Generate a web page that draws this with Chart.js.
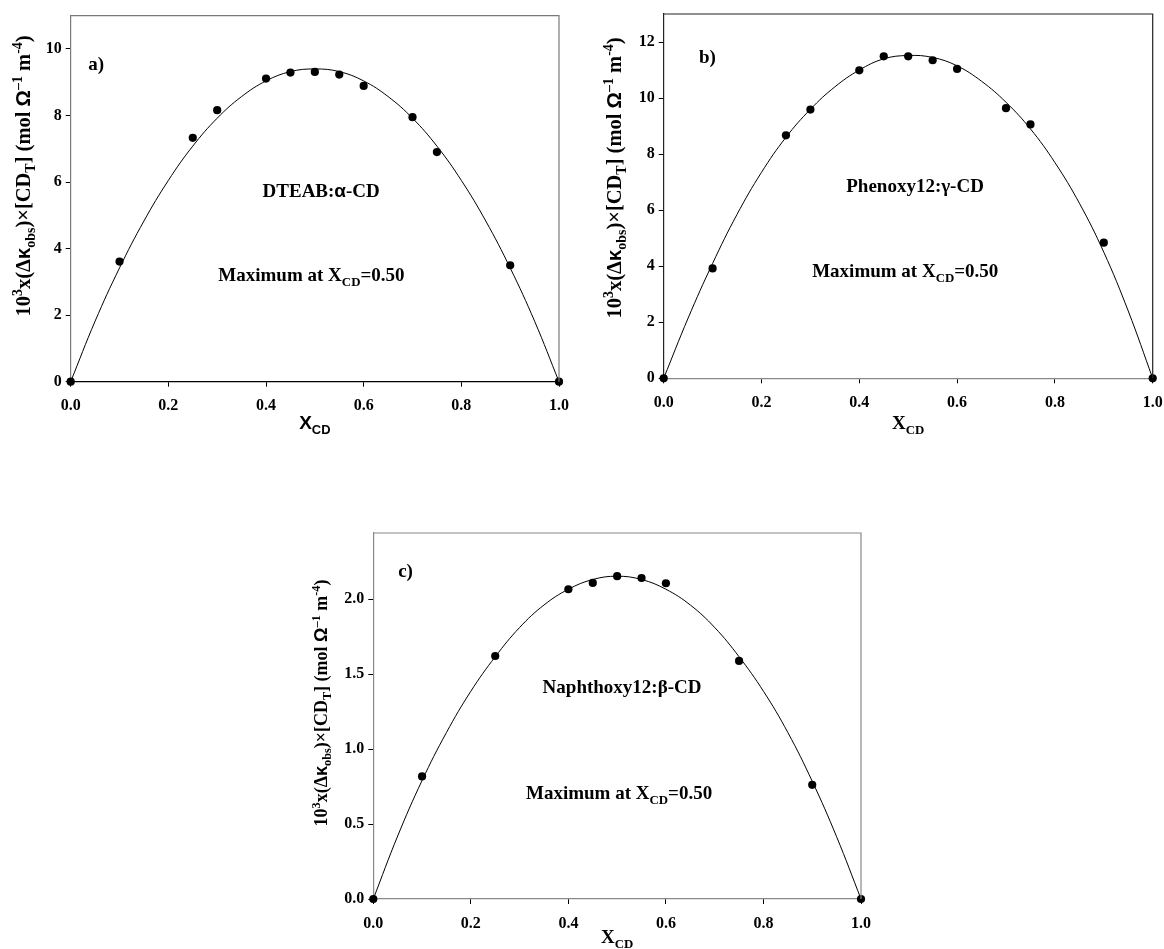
<!DOCTYPE html>
<html>
<head>
<meta charset="utf-8">
<script src="https://cdn.jsdelivr.net/npm/chart.js@4.4.0/dist/chart.umd.min.js"></script>
<style>
  body { margin: 0; background: #fff; width: 1164px; height: 949px; position: relative; overflow: hidden; }
  canvas { position: absolute; }
</style>
</head>
<body>
<canvas id="chartA" width="580" height="449" style="left:0;top:0"></canvas>
<canvas id="chartB" width="584" height="449" style="left:580px;top:0"></canvas>
<canvas id="chartC" width="600" height="479" style="left:280px;top:470px"></canvas>
<script>
// Measured mole fractions of CD
const xObs = [0, 0.1, 0.25, 0.3, 0.4, 0.45, 0.5, 0.55, 0.6, 0.7, 0.75, 0.9, 1.0];
const xObsC = [0, 0.1, 0.25, 0.4, 0.45, 0.5, 0.55, 0.6, 0.75, 0.9, 1.0];

// Job plot points, 10^3 x (dk_obs) x [CD_T]
const dteabObs = [0, 3.61, 7.33, 8.16, 9.11, 9.29, 9.31, 9.23, 8.89, 7.95, 6.90, 3.50, 0];
const phenoxyObs = [0, 3.92, 8.67, 9.59, 10.99, 11.49, 11.49, 11.35, 11.04, 9.64, 9.06, 4.84, 0];
const naphthoxyObs = [0, 0.817, 1.62, 2.065, 2.107, 2.152, 2.14, 2.105, 1.587, 0.761, 0];

// Fitted curves, every 0.05
const xFit = [0, 0.05, 0.1, 0.15, 0.2, 0.25, 0.3, 0.35, 0.4, 0.45, 0.5, 0.55, 0.6, 0.65, 0.7, 0.75, 0.8, 0.85, 0.9, 0.95, 1.0];
const dteabFit = [0, 1.82, 3.42, 4.83, 6.05, 7.08, 7.92, 8.57, 9.04, 9.32, 9.40, 9.32, 9.04, 8.57, 7.92, 7.08, 6.05, 4.83, 3.42, 1.82, 0];
const phenoxyFit = [0, 2.15, 4.1, 5.85, 7.35, 8.6, 9.6, 10.4, 11.0, 11.4, 11.52, 11.45, 11.15, 10.6, 9.85, 8.9, 7.7, 6.25, 4.5, 2.4, 0];
const naphthoxyFit = [0, 0.42, 0.79, 1.11, 1.385, 1.615, 1.81, 1.96, 2.065, 2.13, 2.152, 2.13, 2.065, 1.96, 1.81, 1.615, 1.385, 1.11, 0.785, 0.415, 0];

// Axis ticks
const xTicks = [0, 0.2, 0.4, 0.6, 0.8, 1.0];
const xTickLabels = ['0.0', '0.2', '0.4', '0.6', '0.8', '1.0'];
const yTicksA = [0, 2, 4, 6, 8, 10];
const yTicksB = [0, 2, 4, 6, 8, 10, 12];
const yTicksC = [0, 0.5, 1.0, 1.5, 2.0];
const yTickLabelsC = ['0.0', '0.5', '1.0', '1.5', '2.0'];

const SERIF = "'Liberation Serif', 'Times New Roman', serif";
const SANS = "'Liberation Sans', Arial, sans-serif";

const yTitleParts = [
  ['10', ''], ['3', 'sup'], ['x(\u0394', ''], ['\u03BA', '', SANS], ['obs', 'sub'],
  [')\u00D7[CD', ''], ['T', 'sub'], ['] (mol ', ''], ['\u03A9', '', SANS], ['\u20131', 'sup'],
  [' m', ''], ['-4', 'sup'], [')', '']
];
const maxParts = [['Maximum at X', ''], ['CD', 'sub'], ['=0.50', '']];

// draws text with sub/superscripts; y is the middle of the capitals
function drawRich(ctx, parts, x, y, size, family, align, rotate) {
  const small = size * 0.68;
  ctx.save();
  ctx.translate(x, y);
  if (rotate) ctx.rotate(-Math.PI / 2);
  ctx.fillStyle = '#000';
  ctx.textBaseline = 'alphabetic';
  ctx.textAlign = 'left';
  const fonts = parts.map(p => 'bold ' + (p[1] ? small : size) + 'px ' + (p[2] || family));
  const widths = parts.map((p, i) => { ctx.font = fonts[i]; return ctx.measureText(p[0]).width; });
  let cx = align === 'center' ? -widths.reduce((a, b) => a + b, 0) / 2 : 0;
  const base = size * 0.33;
  parts.forEach((p, i) => {
    ctx.font = fonts[i];
    const dy = p[1] === 'sup' ? -size * 0.4 : p[1] === 'sub' ? size * 0.24 : 0;
    ctx.fillText(p[0], cx, base + dy);
    cx += widths[i];
  });
  ctx.restore();
}

const decor = {
  id: 'decor',
  afterDraw(chart, args, o) {
    const ctx = chart.ctx;
    const a = chart.chartArea;
    ctx.save();
    ctx.lineWidth = 1.2;
    ctx.strokeStyle = o.frame;
    ctx.beginPath();
    ctx.moveTo(a.left, a.top);
    ctx.lineTo(a.right, a.top);
    ctx.lineTo(a.right, a.bottom);
    ctx.stroke();
    ctx.restore();
    const xs = chart.scales.x, ys = chart.scales.y;
    o.notes.forEach(n => {
      drawRich(ctx, n.parts, xs.getPixelForValue(n.x), ys.getPixelForValue(n.y), n.size, SERIF, n.align, false);
    });
    drawRich(ctx, yTitleParts, o.yTitle.x, o.yTitle.y, o.yTitle.size, SERIF, 'center', true);
    drawRich(ctx, o.xTitle.parts, (a.left + a.right) / 2, o.xTitle.y, o.xTitle.size, o.xTitle.family, 'center', false);
  }
};

function makeChart(id, cfg) {
  const tickFont = { family: SERIF, size: 16, weight: 'bold' };
  new Chart(document.getElementById(id), {
    type: 'scatter',
    data: {
      datasets: [
        {
          data: xFit.map((x, i) => ({ x: x, y: cfg.fit[i] })),
          showLine: true,
          borderColor: '#000',
          borderWidth: 1,
          pointRadius: 0,
          tension: 0.4,
          fill: false
        },
        {
          data: cfg.xs.map((x, i) => ({ x: x, y: cfg.obs[i] })),
          pointRadius: 4.1,
          pointBackgroundColor: '#000',
          pointBorderColor: '#000',
          borderWidth: 0,
          clip: false
        }
      ]
    },
    plugins: [decor],
    options: {
      responsive: false,
      animation: false,
      layout: { padding: cfg.pad },
      scales: {
        x: {
          type: 'linear', min: 0, max: 1,
          afterBuildTicks: s => { s.ticks = xTicks.map(v => ({ value: v })); },
          afterFit: s => { s.height = cfg.xH; s.paddingLeft = 0; s.paddingRight = 0; },
          ticks: { font: tickFont, color: '#000', padding: 10, maxRotation: 0, callback: (v, i) => xTickLabels[i] },
          grid: { drawOnChartArea: false, tickLength: 5, color: '#000' },
          border: { color: cfg.bottomColor, width: 1.2 }
        },
        y: {
          type: 'linear', min: 0, max: cfg.yMax,
          afterBuildTicks: s => { s.ticks = cfg.yTicks.map(v => ({ value: v })); },
          afterFit: s => { s.width = cfg.yW; s.paddingTop = 0; s.paddingBottom = 0; },
          ticks: { font: tickFont, color: '#000', padding: 4, callback: (v, i) => cfg.yLabels[i] },
          grid: { drawOnChartArea: false, tickLength: 5, color: '#000' },
          border: { color: cfg.leftColor, width: 1.2 }
        }
      },
      plugins: {
        legend: { display: false },
        tooltip: { enabled: false },
        decor: { frame: cfg.frame, notes: cfg.notes, yTitle: cfg.yTitle, xTitle: cfg.xTitle }
      }
    }
  });
}

makeChart('chartA', {
  xs: xObs, obs: dteabObs, fit: dteabFit, yMax: 11,
  yTicks: yTicksA, yLabels: yTicksA.map(String),
  pad: { left: 0, top: 15.7, right: 21, bottom: 0 }, yW: 70.7, xH: 67.3,
  frame: '#7a7a7a', leftColor: '#7a7a7a', bottomColor: '#000',
  yTitle: { x: 23, y: 176, size: 20.5 },
  xTitle: { parts: [['X', '', SANS], ['CD', 'sub', SANS]], y: 423, size: 19, family: SANS },
  notes: [
    { parts: [['a)', '']], x: 0.036, y: 9.57, size: 19, align: 'left' },
    { parts: [['DTEAB:', ''], ['\u03B1', '', SANS], ['-CD', '']], x: 0.513, y: 5.75, size: 19, align: 'center' },
    { parts: maxParts, x: 0.493, y: 3.2, size: 19, align: 'center' }
  ]
});

makeChart('chartB', {
  xs: xObs, obs: phenoxyObs, fit: phenoxyFit, yMax: 13,
  yTicks: yTicksB, yLabels: yTicksB.map(String),
  pad: { left: 0, top: 14, right: 11.3, bottom: 0 }, yW: 83.7, xH: 70.7,
  frame: '#222', leftColor: '#222', bottomColor: '#888',
  yTitle: { x: 34, y: 178, size: 20.5 },
  xTitle: { parts: [['X', ''], ['CD', 'sub']], y: 423, size: 19, family: SERIF },
  notes: [
    { parts: [['b)', '']], x: 0.072, y: 11.48, size: 19, align: 'left' },
    { parts: [['Phenoxy12:\u03B3-CD', '']], x: 0.514, y: 6.88, size: 19, align: 'center' },
    { parts: maxParts, x: 0.494, y: 3.84, size: 19, align: 'center' }
  ]
});

makeChart('chartC', {
  xs: xObsC, obs: naphthoxyObs, fit: naphthoxyFit, yMax: 2.44,
  yTicks: yTicksC, yLabels: yTickLabelsC,
  pad: { left: 0, top: 63, right: 19, bottom: 0 }, yW: 93.3, xH: 50,
  frame: '#888', leftColor: '#888', bottomColor: '#888',
  yTitle: { x: 41, y: 233, size: 18 },
  xTitle: { parts: [['X', ''], ['CD', 'sub']], y: 467, size: 19, family: SERIF },
  notes: [
    { parts: [['c)', '']], x: 0.051, y: 2.19, size: 19, align: 'left' },
    { parts: [['Naphthoxy12:\u03B2-CD', '']], x: 0.51, y: 1.415, size: 19, align: 'center' },
    { parts: maxParts, x: 0.504, y: 0.706, size: 19, align: 'center' }
  ]
});
</script>
</body>
</html>
